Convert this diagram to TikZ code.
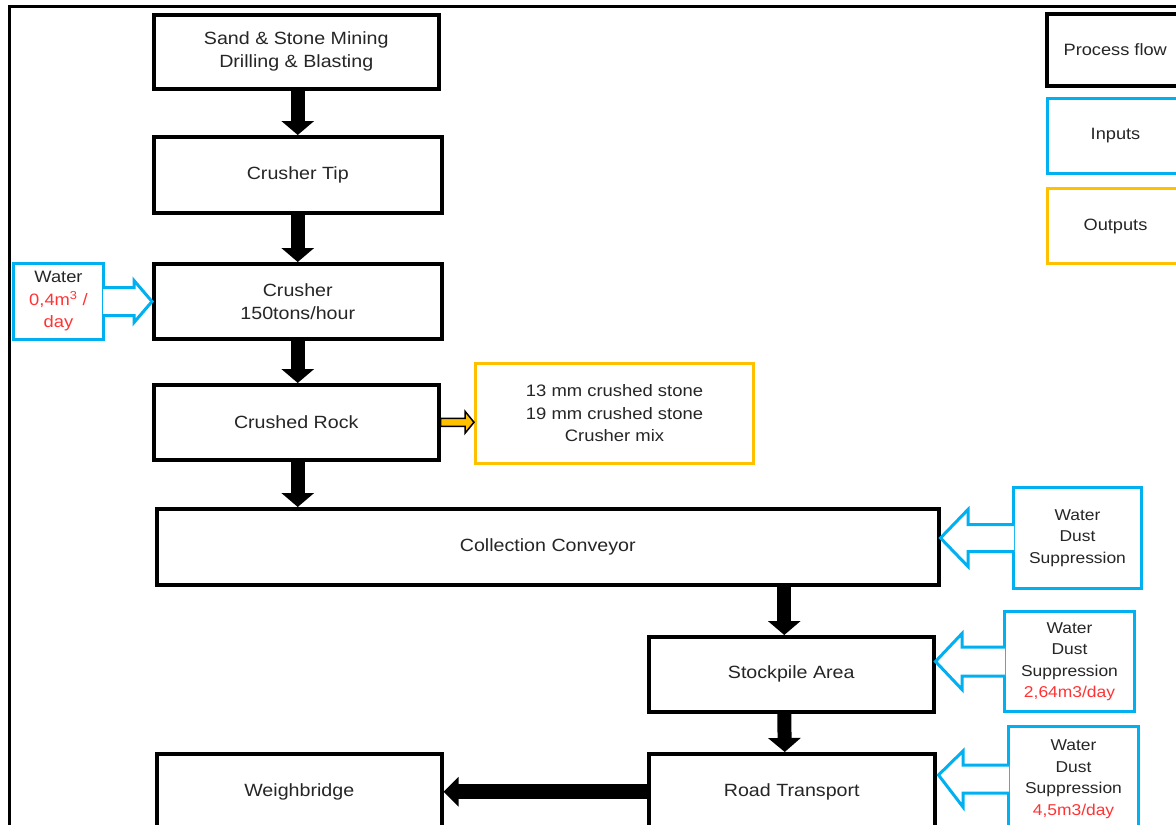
\documentclass[tikz,border=0pt]{standalone}
\usepackage{fontspec}
\setmainfont{Liberation Sans}[FakeStretch=1.11]
\usetikzlibrary{arrows.meta,calc}
\definecolor{incol}{HTML}{00B0F0}
\definecolor{outcol}{HTML}{FFC000}
\definecolor{redtxt}{HTML}{FF3333}
\definecolor{txt}{HTML}{262626}
\begin{document}
\begin{tikzpicture}[x=1pt,y=-1pt,
  every node/.style={text=txt, align=center, inner sep=0pt},
  mainfont/.style={font=\fontsize{17.7}{23}\selectfont},
  smallfont/.style={font=\fontsize{15.7}{21.5}\selectfont},
  legfont/.style={font=\fontsize{16.4}{22}\selectfont},
  proc/.style={mainfont, draw=black, line width=3.5pt, fill=white, anchor=north west},
  legproc/.style={legfont, draw=black, line width=3.5pt, fill=white, anchor=north west},
  inbox/.style={smallfont, draw=incol, line width=3pt, fill=white, anchor=north west},
  leginbox/.style={legfont, draw=incol, line width=3pt, fill=white, anchor=north west},
  outbox/.style={font=\fontsize{16.6}{22.5}\selectfont, draw=outcol, line width=3pt, fill=white, anchor=north west},
  flow/.style={line width=14pt, -{Triangle[width=32pt,length=14pt]}},
  inarrow/.style={draw=incol, line width=3pt, fill=white, line join=miter},
  outarrow/.style={draw=black, line width=1.5pt, fill=outcol, line join=miter}]
\useasboundingbox (0,0) rectangle (1176,825);
% frame
\draw[line width=3pt] (9,830) -- (9,6) -- (1180,6);
% process boxes
\node[proc, minimum width=285pt, minimum height=74pt] (mining) at (152,13) {Sand \& Stone Mining\\Drilling \& Blasting};
\node[proc, minimum width=288pt, minimum height=76pt] (tip) at (152,135) {Crusher Tip};
\node[proc, minimum width=288pt, minimum height=75pt] (crusher) at (152,262) {Crusher\\150tons/hour};
\node[proc, minimum width=285pt, minimum height=75pt] (rock) at (152,383) {Crushed Rock};
\node[proc, minimum width=782pt, minimum height=76pt] (conveyor) at (155,507) {Collection Conveyor};
\node[proc, minimum width=285pt, minimum height=75pt] (stockpile) at (647,635) {Stockpile Area};
\node[proc, minimum width=286pt, minimum height=76pt] (road) at (647,752) {Road Transport};
\node[proc, minimum width=285pt, minimum height=76pt] (weigh) at (155,752) {Weighbridge};
% legend
\node[legproc, minimum width=137pt, minimum height=72pt] (legproc) at (1045,12) {Process flow};
\node[leginbox, minimum width=136pt, minimum height=75pt] (legin) at (1046,97) {Inputs};
\node[leginbox, draw=outcol, minimum width=136pt, minimum height=75pt] (legout) at (1046,187) {Outputs};
% output box
\node[outbox, minimum width=278pt, minimum height=100pt] (output) at (474,362) {13 mm crushed stone\\19 mm crushed stone\\Crusher mix};
% input boxes
\node[inbox, font=\fontsize{16.5}{22.5}\selectfont, minimum width=90pt, minimum height=76pt] (w1) at (12,262) {Water\\\textcolor{redtxt}{0,4m\textsuperscript{3} /}\\\textcolor{redtxt}{day}};
\node[inbox, minimum width=128pt, minimum height=101pt] (w2) at (1012,486) {Water\\Dust\\Suppression};
\node[inbox, minimum width=130pt, minimum height=100pt] (w3) at (1003,610) {Water\\Dust\\Suppression\\\textcolor{redtxt}{2,64m3/day}};
\node[inbox, minimum width=130pt, minimum height=105pt] (w4) at (1007,725) {Water\\Dust\\Suppression\\\textcolor{redtxt}{4,5m3/day}};
% process flow arrows
\draw[flow] (mining.south -| tip.north) -- (tip.north);
\draw[flow] (tip.south) -- (crusher.north);
\draw[flow] (crusher.south) -- (crusher.south |- rock.north);
\draw[flow] (rock.south -| crusher.south) -- (crusher.south |- conveyor.north);
\draw[flow] ($(conveyor.south -| stockpile.north)+(-7,0)$) -- ($(stockpile.north)+(-7,0)$);
\draw[flow] ($(stockpile.south)+(-7,0)$) -- ($(road.north)+(-7,0)$);
\draw[line width=15pt, -{Triangle[width=29pt,length=15pt]}] (road.west) -- (weigh.east);
% output arrow
\draw[outarrow] ($(rock.east)+(0,-4)$) -- ($(output.west |- rock.east)+(-9,-4)$) -- ($(output.west |- rock.east)+(-9,-11)$)
  -- (output.west |- rock.east) -- ($(output.west |- rock.east)+(-9,11)$) -- ($(output.west |- rock.east)+(-9,4)$)
  -- ($(rock.east)+(0,4)$) -- cycle;
% input block arrows
\draw[inarrow] ($(w1.east)+(-2,-14)$) -- ($(w1.east)+(29,-14)$) -- ($(w1.east)+(29,-21)$)
  -- (crusher.west |- w1.east) -- ($(w1.east)+(29,21)$) -- ($(w1.east)+(29,14)$) -- ($(w1.east)+(-2,14)$);
\draw[inarrow] ($(w2.west)+(2,-13.5)$) -- ($(w2.west)+(-44,-13.5)$) -- ($(w2.west)+(-44,-28.5)$)
  -- (conveyor.east |- w2.west) -- ($(w2.west)+(-44,28.5)$) -- ($(w2.west)+(-44,13.5)$) -- ($(w2.west)+(2,13.5)$);
\draw[inarrow] ($(w3.west)+(2,-14.5)$) -- ($(w3.west)+(-41,-14.5)$) -- ($(w3.west)+(-41,-28)$)
  -- (stockpile.east |- w3.west) -- ($(w3.west)+(-41,28)$) -- ($(w3.west)+(-41,14.5)$) -- ($(w3.west)+(2,14.5)$);
\draw[inarrow] ($(w4.west)+(2,-14)$) -- ($(w4.west)+(-44,-14)$) -- ($(w4.west)+(-44,-28)$)
  -- ($(road.east |- w4.west)+(2,-4)$) -- ($(w4.west)+(-44,28)$) -- ($(w4.west)+(-44,14)$) -- ($(w4.west)+(2,14)$);
\end{tikzpicture}
\end{document}
